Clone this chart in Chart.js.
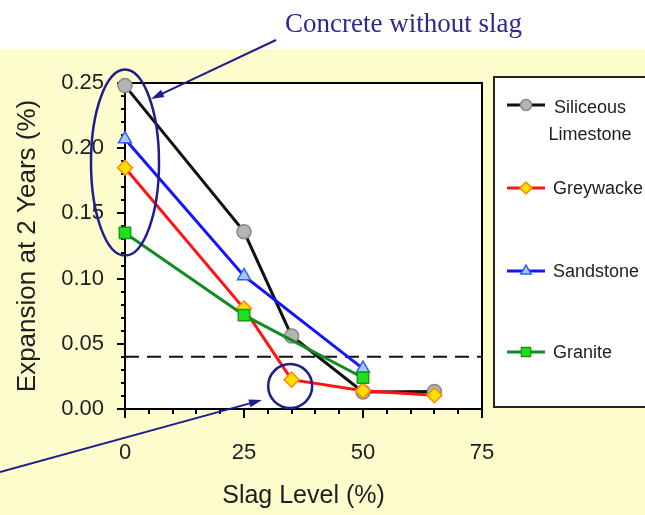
<!DOCTYPE html>
<html>
<head>
<meta charset="utf-8">
<script src="https://cdn.jsdelivr.net/npm/chart.js@4.4.1/dist/chart.umd.min.js"></script>
<style>
  body { margin: 0; background: #fff; }
  canvas { display: block; }
</style>
</head>
<body>
<canvas id="chart" width="645" height="515"></canvas>
<script>
// data
const slagLevels = [0, 25, 35, 50, 65];
const slagLevelsShort = [0, 25, 50];
const siliceousLimestone = [0.248, 0.136, 0.056, 0.013, 0.0135];
const greywacke = [0.185, 0.077, 0.0225, 0.014, 0.0105];
const sandstone = [0.207, 0.102, 0.031];
const granite = [0.135, 0.072, 0.024];
const limitX = [0, 75];
const limitY = 0.04;
const seriesNames = ["Siliceous Limestone", "Greywacke", "Sandstone", "Granite"];
const legendLines = [["Siliceous", "Limestone"], ["Greywacke"], ["Sandstone"], ["Granite"]];
const xTicks = [0, 25, 50, 75];
const yTicks = [0, 0.05, 0.10, 0.15, 0.20, 0.25];

const NAVY = "#1e1e8e";
const FONT = "'Liberation Sans', Arial, sans-serif";

function pts(xs, ys) {
    return xs.map((x, i) => ({x: x, y: ys[i]}));
}

function arrow(ctx, x1, y1, x2, y2) {
    const ang = Math.atan2(y2 - y1, x2 - x1);
    ctx.beginPath();
    ctx.moveTo(x1, y1);
    ctx.lineTo(x2 - 6 * Math.cos(ang), y2 - 6 * Math.sin(ang));
    ctx.stroke();
    ctx.beginPath();
    ctx.moveTo(x2, y2);
    ctx.lineTo(x2 - 13 * Math.cos(ang) + 4 * Math.sin(ang), y2 - 13 * Math.sin(ang) - 4 * Math.cos(ang));
    ctx.lineTo(x2 - 13 * Math.cos(ang) - 4 * Math.sin(ang), y2 - 13 * Math.sin(ang) + 4 * Math.cos(ang));
    ctx.closePath();
    ctx.fill();
}

const decorations = {
    id: "decorations",
    beforeDraw(chart) {
        const {ctx, chartArea: a, width, height} = chart;
        ctx.save();
        ctx.fillStyle = "#ffffff";
        ctx.fillRect(0, 0, width, 49);
        ctx.fillStyle = "#fdfccd";
        ctx.fillRect(0, 49, width, height - 49);
        ctx.fillStyle = "#ffffff";
        ctx.fillRect(a.left, a.top, a.right - a.left, a.bottom - a.top);
        ctx.restore();
    },
    beforeDatasetsDraw(chart) {
        const {ctx, chartArea: a, scales} = chart;
        ctx.save();
        ctx.strokeStyle = "#000";
        ctx.lineWidth = 2;
        // minor ticks
        ctx.beginPath();
        for (let v = 0; v <= 0.2501; v += 0.01) {
            const py = Math.round(scales.y.getPixelForValue(v));
            ctx.moveTo(a.left - 4, py);
            ctx.lineTo(a.left, py);
        }
        for (let v = 0; v <= 75; v += 5) {
            const px = Math.round(scales.x.getPixelForValue(v));
            ctx.moveTo(px, a.bottom);
            ctx.lineTo(px, a.bottom + 5);
        }
        ctx.stroke();
        // box around plot
        ctx.strokeRect(a.left, a.top, a.right - a.left, a.bottom - a.top);
        ctx.restore();
    },
    afterDraw(chart) {
        const {ctx, scales} = chart;
        ctx.save();
        // legend box
        const lx = 494, ly = 77, lb = 407;
        ctx.fillStyle = "#fff";
        ctx.fillRect(lx, ly, 160, lb - ly);
        ctx.strokeStyle = "#222";
        ctx.lineWidth = 2;
        ctx.strokeRect(lx, ly, 160, lb - ly);
        const rows = [105, 188, 271, 352];
        chart.data.datasets.slice(0, 4).forEach((ds, i) => {
            const y = rows[i];
            ctx.strokeStyle = ds.borderColor;
            ctx.lineWidth = 3;
            ctx.beginPath();
            ctx.moveTo(507, y);
            ctx.lineTo(545, y);
            ctx.stroke();
            ctx.fillStyle = ds.pointBackgroundColor;
            ctx.strokeStyle = ds.pointBorderColor;
            ctx.lineWidth = 1.5;
            Chart.helpers.drawPoint(ctx, {
                pointStyle: ds.pointStyle, radius: ds.pointRadius - 1.5, rotation: 0, borderWidth: 1.5
            }, 526, y);
            ctx.fillStyle = "#1e1e1e";
            ctx.font = "18px " + FONT;
            ctx.textBaseline = "middle";
            const lines = legendLines[i];
            if (lines.length > 1) {
                ctx.textAlign = "center";
                lines.forEach((t, k) => ctx.fillText(t, 590, y + 3 + k * 27));
            } else {
                ctx.textAlign = "left";
                ctx.fillText(lines[0], 553, y + 1);
            }
        });
        // annotations
        ctx.strokeStyle = NAVY;
        ctx.fillStyle = NAVY;
        ctx.lineWidth = 2.5;
        const ex = scales.x.getPixelForValue(0), ey = scales.y.getPixelForValue(0.189);
        ctx.beginPath();
        ctx.ellipse(ex, ey, 34, 93, 0, 0, Math.PI * 2);
        ctx.stroke();
        const cx = scales.x.getPixelForValue(34.7), cy = scales.y.getPixelForValue(0.0176);
        ctx.beginPath();
        ctx.arc(cx, cy, 22, 0, Math.PI * 2);
        ctx.stroke();
        ctx.lineWidth = 2;
        arrow(ctx, 276, 40, 151, 99);
        arrow(ctx, 0, 472, 262, 400);
        ctx.font = "27px 'Liberation Serif', 'Times New Roman', serif";
        ctx.textAlign = "left";
        ctx.textBaseline = "alphabetic";
        ctx.fillStyle = "#2a2a90";
        ctx.fillText("Concrete without slag", 285, 32);
        ctx.restore();
    }
};

const ctx = document.getElementById("chart").getContext("2d");
new Chart(ctx, {
    type: "line",
    data: {
        datasets: [{
            label: seriesNames[0],
            data: pts(slagLevels, siliceousLimestone),
            borderColor: "#111111",
            pointBackgroundColor: "#b4b4b4",
            pointBorderColor: "#888888",
            pointStyle: "circle",
            pointRadius: 7,
            order: 4
        }, {
            label: seriesNames[1],
            data: pts(slagLevels, greywacke),
            borderColor: "#ff1414",
            pointBackgroundColor: "#ffdf00",
            pointBorderColor: "#ff8a00",
            pointStyle: "rectRot",
            pointRadius: 7.5,
            order: 2
        }, {
            label: seriesNames[2],
            data: pts(slagLevelsShort, sandstone),
            borderColor: "#1414ff",
            pointBackgroundColor: "#a8c8ff",
            pointBorderColor: "#3060ff",
            pointStyle: "triangle",
            pointRadius: 7.5,
            order: 3
        }, {
            label: seriesNames[3],
            data: pts(slagLevelsShort, granite),
            borderColor: "#158a22",
            pointBackgroundColor: "#1ee01e",
            pointBorderColor: "#12a012",
            pointStyle: "rect",
            pointRadius: 8,
            order: 1
        }, {
            label: "limit",
            data: limitX.map(x => ({x: x, y: limitY})),
            borderColor: "#111111",
            borderWidth: 2,
            borderDash: [14, 8],
            pointRadius: 0,
            order: 5
        }].map(ds => Object.assign({borderWidth: 3, pointBorderWidth: 1.5, tension: 0, clip: false}, ds))
    },
    options: {
        responsive: false,
        animation: false,
        layout: {padding: {left: 0, top: 83, right: 163, bottom: 0}},
        plugins: {
            legend: {display: false},
            tooltip: {enabled: false}
        },
        scales: {
            x: {
                type: "linear",
                min: 0,
                max: 75,
                afterFit: s => { s.height = 106; },
                afterBuildTicks: s => { s.ticks = xTicks.map(v => ({value: v})); },
                border: {color: "#000", width: 2},
                grid: {drawOnChartArea: false, color: "#000", lineWidth: 2, tickLength: 9},
                ticks: {
                    padding: 22,
                    color: "#1e1e1e",
                    font: {family: FONT, size: 22},
                    callback: v => String(v)
                },
                title: {
                    display: true,
                    text: "Slag Level (%)",
                    color: "#1e1e1e",
                    font: {family: FONT, size: 25, lineHeight: 1},
                    padding: {top: 0, bottom: 6}
                }
            },
            y: {
                min: 0,
                max: 0.25,
                afterFit: s => { s.width = 125; },
                afterBuildTicks: s => { s.ticks = yTicks.map(v => ({value: v})); },
                border: {color: "#000", width: 2},
                grid: {drawOnChartArea: false, color: "#000", lineWidth: 2, tickLength: 8},
                ticks: {
                    padding: 13,
                    color: "#1e1e1e",
                    font: {family: FONT, size: 22},
                    callback: v => v.toFixed(2)
                },
                title: {
                    display: true,
                    text: "Expansion at 2 Years (%)",
                    color: "#1e1e1e",
                    font: {family: FONT, size: 26, lineHeight: 1},
                    padding: {top: 15, bottom: 0}
                }
            }
        }
    },
    plugins: [decorations]
});
</script>
</body>
</html>
